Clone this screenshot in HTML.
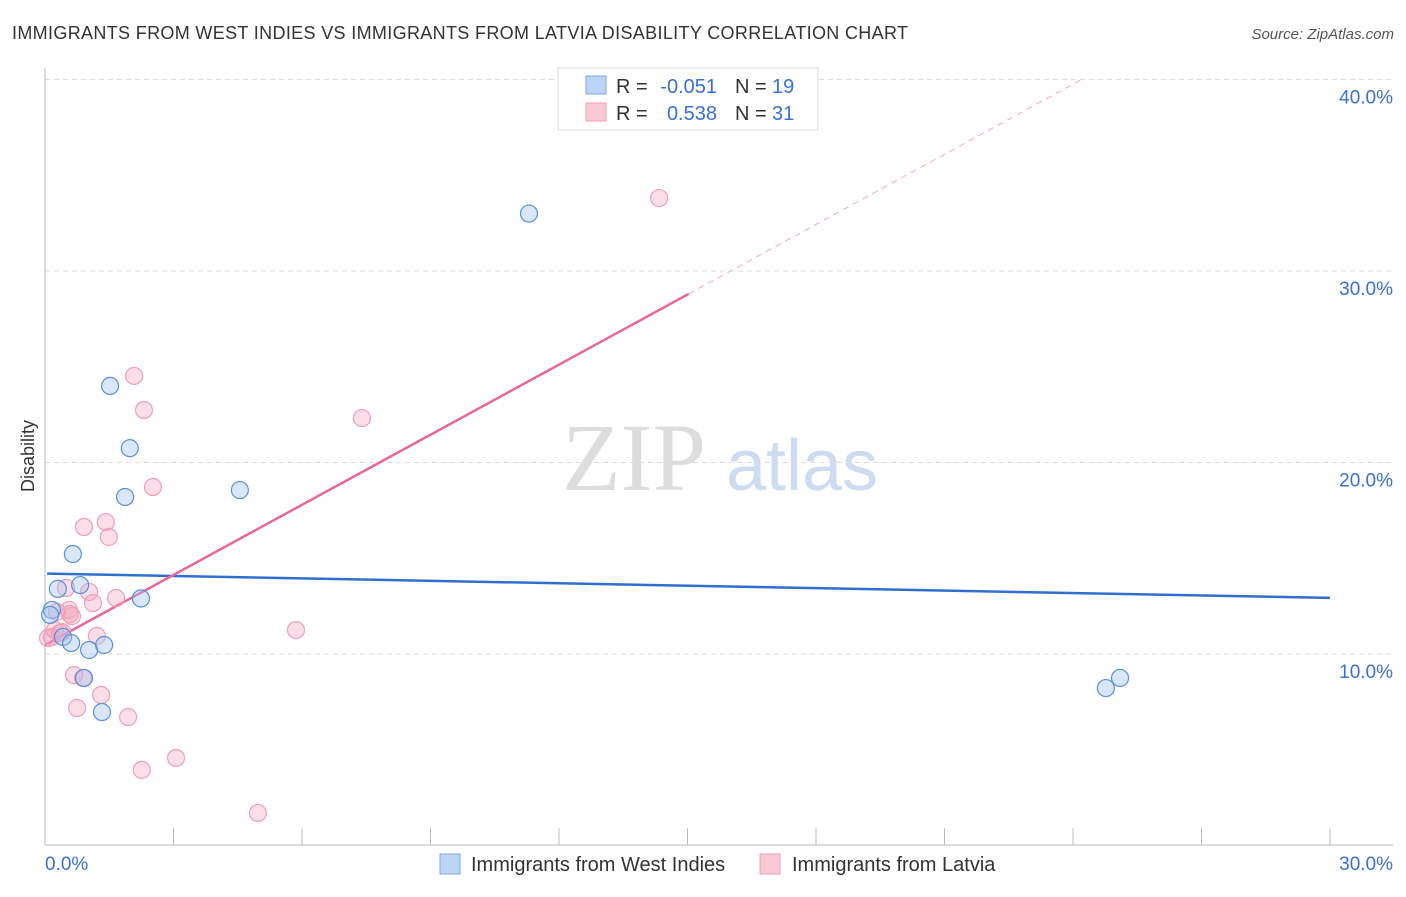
<!DOCTYPE html>
<html><head><meta charset="utf-8"><style>
body{margin:0;background:#fff;font-family:"Liberation Sans",sans-serif;}
</style></head><body>
<svg width="1406" height="892" xmlns="http://www.w3.org/2000/svg">
<text x="12" y="39" font-size="18" fill="#333" textLength="896">IMMIGRANTS FROM WEST INDIES VS IMMIGRANTS FROM LATVIA DISABILITY CORRELATION CHART</text>
<text x="1394" y="39" font-size="15" fill="#555" font-style="italic" text-anchor="end">Source: ZipAtlas.com</text>
<g><text x="634" y="490" font-size="96" fill="#ddd" font-family="Liberation Serif" text-anchor="middle">ZIP</text><text x="802" y="490" font-size="72" fill="#cddcf0" text-anchor="middle">atlas</text></g>
<text x="34" y="456" font-size="18" fill="#333" transform="rotate(-90 34 456)" text-anchor="middle">Disability</text>
<g id="grid"></g><g id="axes"></g><g id="lines"></g><g id="pts"></g>
<g>
<rect x="558" y="68" width="260" height="62" fill="#fff" stroke="#ddd"/>
<rect x="586" y="76" width="20" height="18" fill="#bcd5f5" stroke="#7aa6e0"/>
<rect x="586" y="103" width="20" height="18" fill="#f9c9d6" stroke="#eea0b6"/>
<text x="616" y="93" font-size="20" fill="#333">R =</text>
<text x="717" y="93" font-size="20" fill="#3a6fd8" text-anchor="end">-0.051</text>
<text x="735" y="93" font-size="20" fill="#333">N =</text>
<text x="772" y="93" font-size="20" fill="#3a6fd8">19</text>
<text x="616" y="120" font-size="20" fill="#333">R =</text>
<text x="717" y="120" font-size="20" fill="#3a6fd8" text-anchor="end">0.538</text>
<text x="735" y="120" font-size="20" fill="#333">N =</text>
<text x="772" y="120" font-size="20" fill="#3a6fd8">31</text>
</g>
<g>
<rect x="440" y="854" width="20" height="20" fill="#bcd5f5" stroke="#7aa6e0"/>
<text x="471" y="871" font-size="20" fill="#333">Immigrants from West Indies</text>
<rect x="760" y="854" width="20" height="20" fill="#f9c9d6" stroke="#eea0b6"/>
<text x="792" y="871" font-size="20" fill="#333">Immigrants from Latvia</text>
</g>
</svg>
<script>
const blueX=[1.52,1.98,1.87,4.55,11.3,0.65,0.30,0.82,2.24,0.16,0.12,0.42,0.61,1.03,1.38,0.91,1.33,24.77,25.1];
const blueY=[24.0,20.75,18.2,18.56,33.0,15.22,13.4,13.6,12.9,12.3,12.04,10.89,10.57,10.21,10.47,8.75,6.97,8.22,8.75];
const pinkX=[2.08,2.31,2.52,7.4,14.34,0.91,1.42,1.49,0.49,1.03,1.12,1.66,0.56,0.58,0.28,5.86,1.21,0.16,0.23,0.4,0.68,0.89,1.31,0.75,1.94,3.06,2.26,4.97,0.07,0.35,0.63];
const pinkY=[24.52,22.74,18.72,22.32,33.81,16.63,16.89,16.11,13.45,13.24,12.66,12.92,12.3,12.09,12.2,11.25,10.94,10.89,11.25,11.15,8.9,8.75,7.86,7.18,6.71,4.57,3.95,1.7,10.83,11.1,11.98];
const yTicks=[10,20,30,40];
const yTickLabels=["10.0%","20.0%","30.0%","40.0%"];
const xTickLabels=["0.0%","30.0%"];
const blueTrend=[14.2,12.93];
const pinkTrend=[10.47,1.22];
const NS="http://www.w3.org/2000/svg";
const xs=v=>45+v*42.83, ys=v=>845.5-v*19.15;
function mk(p,t,a){const e=document.createElementNS(NS,t);for(const k in a)e.setAttribute(k,a[k]);document.getElementById(p).appendChild(e);return e;}
yTicks.forEach((t,i)=>{
 const l=mk('grid','line',{x1:45,x2:1393,y1:ys(t),y2:ys(t),stroke:'#ddd','stroke-dasharray':'5,4'});
 
 
 const tx=mk('grid','text',{x:1393,y:ys(t)+24,'font-size':19,fill:'#3a6fd8','text-anchor':'end'});tx.textContent=yTickLabels[i];
 
 
});
mk('axes','line',{x1:45,x2:45,y1:68,y2:845,stroke:'#bbb'});
mk('axes','line',{x1:45,x2:1393,y1:845,y2:845,stroke:'#bbb'});
for(let i=1;i<=10;i++){const x=45+i*128.5;mk('axes','line',{x1:x,x2:x,y1:828,y2:845,stroke:'#bbb'});}
const xl0=mk('axes','text',{x:45,y:870,'font-size':19,fill:'#3a6fd8'});xl0.textContent=xTickLabels[0];


const xl1=mk('axes','text',{x:1393,y:870,'font-size':19,fill:'#3a6fd8','text-anchor':'end'});xl1.textContent=xTickLabels[1];


const bl=mk('lines','line',{x1:xs(0.05),y1:ys(blueTrend[0]),x2:xs(30),y2:ys(blueTrend[1]),stroke:'#2f6fd0','stroke-width':2.5});


const xe=15.03, xd=(40-pinkTrend[0])/pinkTrend[1];
const pl=mk('lines','line',{x1:xs(0),y1:ys(pinkTrend[0]),x2:xs(xe),y2:ys(pinkTrend[0]+pinkTrend[1]*xe),stroke:'#e8689a','stroke-width':2.5});


const pd=mk('lines','line',{x1:xs(xe),y1:ys(pinkTrend[0]+pinkTrend[1]*xe),x2:xs(xd),y2:ys(40),stroke:'#eeaac0','stroke-width':1,'stroke-dasharray':'6,5'});


pinkX.forEach((x,i)=>{const c=mk('pts','circle',{cx:xs(x),cy:ys(pinkY[i]),r:8.5,fill:'rgba(244,160,186,0.35)',stroke:'#eea0b6','stroke-width':1.2});
 
 });
blueX.forEach((x,i)=>{const c=mk('pts','circle',{cx:xs(x),cy:ys(blueY[i]),r:8.5,fill:'rgba(160,196,240,0.4)',stroke:'#5a8fdc','stroke-width':1.2});
 
 });
</script>
</body></html>
